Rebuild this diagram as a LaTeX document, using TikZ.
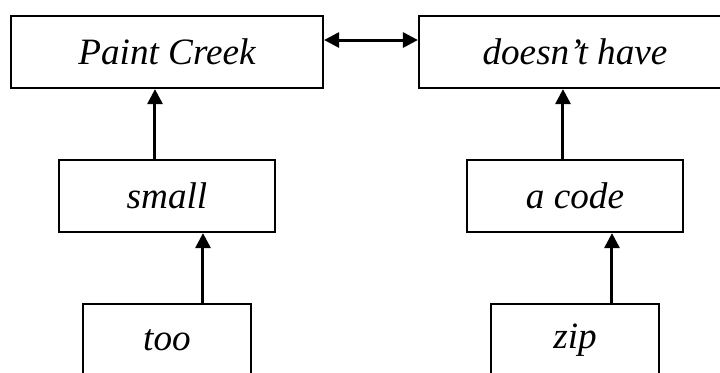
\documentclass[tikz,border=0pt]{standalone}
\usepackage{fontspec}
\setmainfont{Liberation Serif}
\usetikzlibrary{arrows.meta}

\begin{document}
\begin{tikzpicture}[x=0.5pt,y=-0.5pt,line width=1.1pt,>={Triangle[length=7.5pt,width=7.5pt]},
  box/.style={draw,inner sep=0pt,minimum height=36pt,font=\fontsize{18.6}{22}\selectfont\itshape},
  arr/.style={->,line width=1.5pt}]
  \clip (0,0) rectangle (720,372);
  % fila de arriba
  \node[box,minimum width=156pt] (paint) at (167,52) {Paint Creek};
  \node[box,minimum width=156pt] (doesnt) at (575,52) {doesn't have};
  % fila del medio
  \node[box,minimum width=108pt] (small) at (167,196) {small};
  \node[box,minimum width=108pt] (acode) at (575,196) {a code};
  % fila de abajo
  \node[box,minimum width=84pt] (too) at (167,340) {too};
  \node[box,minimum width=84pt] (zip) at (575,340) {zip};
  % flechas
  \draw[arr,<->] ([yshift=6pt]paint.east) -- ([yshift=6pt]doesnt.west);
  \draw[arr] ([xshift=-6pt]small.north) -- ([xshift=-6pt]small.north |- paint.south);
  \draw[arr] ([xshift=-6pt]acode.north) -- ([xshift=-6pt]acode.north |- doesnt.south);
  \draw[arr] ([xshift=18pt]too.north) -- ([xshift=18pt]too.north |- small.south);
  \draw[arr] ([xshift=18.5pt]zip.north) -- ([xshift=18.5pt]zip.north |- acode.south);
\end{tikzpicture}
\end{document}
